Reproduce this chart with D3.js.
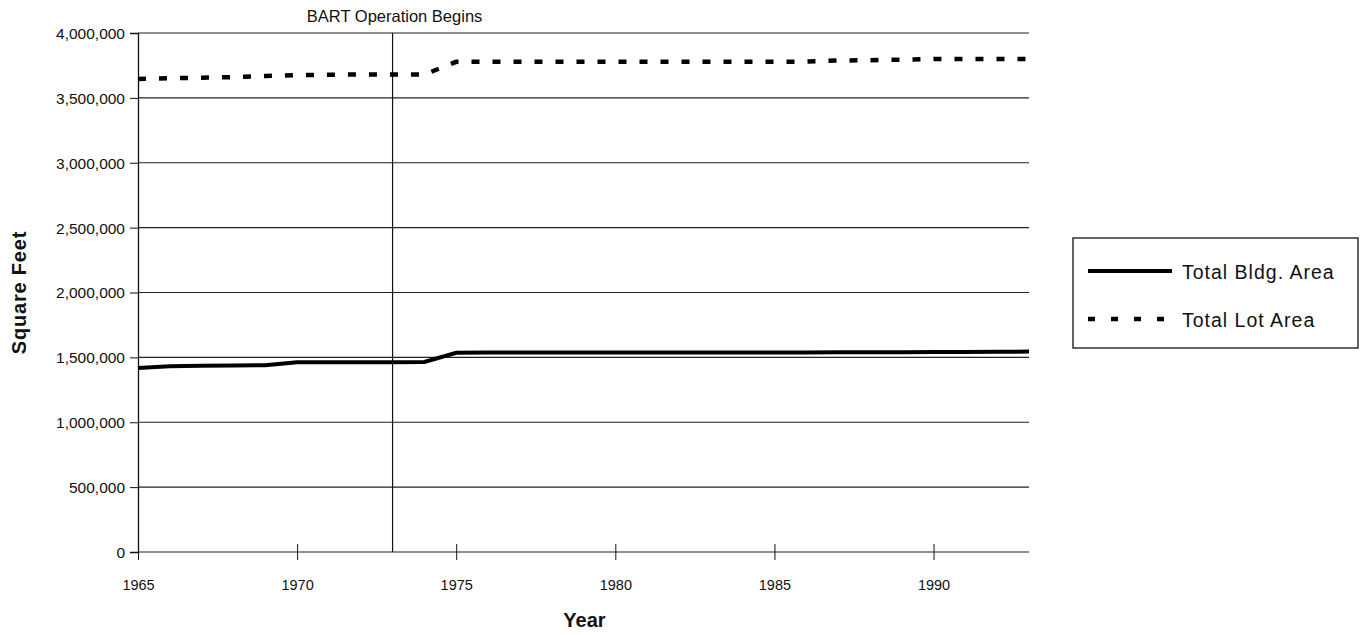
<!DOCTYPE html>
<html><head><meta charset="utf-8">
<script src="https://cdn.jsdelivr.net/npm/d3@7"></script>
<style>
body{margin:0;background:#fff;}
text{font-family:"Liberation Sans",Arial,sans-serif;fill:#111;}
</style></head>
<body><svg id="c" width="1361" height="635"></svg>
<script>
const years = d3.range(1965, 1994);
const bldgArea = [1418000,1432000,1435000,1438000,1440000,1462000,1462000,1463000,1463000,1464000,1535000,1537000,1537000,1537000,1538000,1538000,1538000,1538000,1538000,1538000,1538000,1538000,1540000,1540000,1540000,1542000,1542000,1543000,1545000];
const lotArea = [3645000,3652000,3655000,3660000,3668000,3676000,3678000,3680000,3680000,3680000,3778000,3778000,3778000,3778000,3778000,3778000,3778000,3778000,3778000,3778000,3778000,3780000,3788000,3790000,3795000,3800000,3800000,3800000,3800000];
const yTicks = [0,500000,1000000,1500000,2000000,2500000,3000000,3500000,4000000];
const xTicks = [1965,1970,1975,1980,1985,1990];
const bartYear = 1973;
const seriesNames = ["Total Bldg. Area","Total Lot Area"];

const svg = d3.select("#c");
const L=138, R=1029, T=33, B=552;
const x = d3.scaleLinear().domain([1965,1993]).range([L,R]);
const y = d3.scaleLinear().domain([0,4000000]).range([B,T]);

// gridlines
svg.append("g").selectAll("line").data(yTicks).join("line")
  .attr("x1",L).attr("x2",R).attr("y1",d=>y(d)).attr("y2",d=>y(d))
  .attr("stroke","#222").attr("stroke-width",1.2);

// y axis
const ya = svg.append("g").attr("transform",`translate(${L},0)`)
  .call(d3.axisLeft(y).tickValues(yTicks).tickFormat(d3.format(",")).tickSize(8).tickPadding(5));
ya.select(".domain").attr("stroke","#111").attr("stroke-width",1.3);
ya.selectAll(".tick line").attr("stroke","#111");
ya.selectAll("text").style("font-size","15.5px").attr("dy","0.35em");

// x axis
const xa = svg.append("g").attr("transform",`translate(0,${B})`)
  .call(d3.axisBottom(x).tickValues(xTicks).tickFormat(d3.format("d")).tickSize(8).tickPadding(20));
xa.select(".domain").remove();
xa.selectAll(".tick line").attr("y1",-8).attr("y2",8).attr("stroke","#111");
xa.selectAll("text").style("font-size","14.5px");

// BART line
svg.append("line").attr("x1",x(bartYear)).attr("x2",x(bartYear)).attr("y1",T).attr("y2",B)
  .attr("stroke","#111").attr("stroke-width",1.2);
svg.append("text").attr("x",x(bartYear)+2).attr("y",22).attr("text-anchor","middle")
  .style("font-size","16.5px").text("BART Operation Begins");

// lines
const line = d3.line().x((d,i)=>x(years[i])).y(d=>y(d));
svg.append("path").datum(bldgArea).attr("d",line).attr("fill","none")
  .attr("stroke","#000").attr("stroke-width",4);
svg.append("path").datum(lotArea).attr("d",line).attr("fill","none")
  .attr("stroke","#000").attr("stroke-width",4.5).attr("stroke-dasharray","8,13");

// axis titles
svg.append("text").attr("x",x(1979)+1).attr("y",627).attr("text-anchor","middle")
  .style("font-size","20px").style("font-weight","bold").text("Year");
svg.append("text").attr("transform",`translate(26,${(T+B)/2}) rotate(-90)`).attr("text-anchor","middle")
  .style("font-size","20px").style("font-weight","bold").style("letter-spacing","0.8px").text("Square Feet");

// legend
const lg = svg.append("g");
lg.append("rect").attr("x",1073).attr("y",238).attr("width",285).attr("height",110)
  .attr("fill","#fff").attr("stroke","#111").attr("stroke-width",1.3);
lg.append("line").attr("x1",1088).attr("x2",1172).attr("y1",271).attr("y2",271)
  .attr("stroke","#000").attr("stroke-width",4);
lg.append("line").attr("x1",1088).attr("x2",1172).attr("y1",319).attr("y2",319)
  .attr("stroke","#000").attr("stroke-width",4.5).attr("stroke-dasharray","7,16");
lg.selectAll("text.l").data(seriesNames).join("text").attr("class","l")
  .attr("x",1182).attr("y",(d,i)=>272+i*48).attr("dy","0.35em")
  .style("font-size","19.5px").style("letter-spacing","1px").text(d=>d);
</script></body></html>
